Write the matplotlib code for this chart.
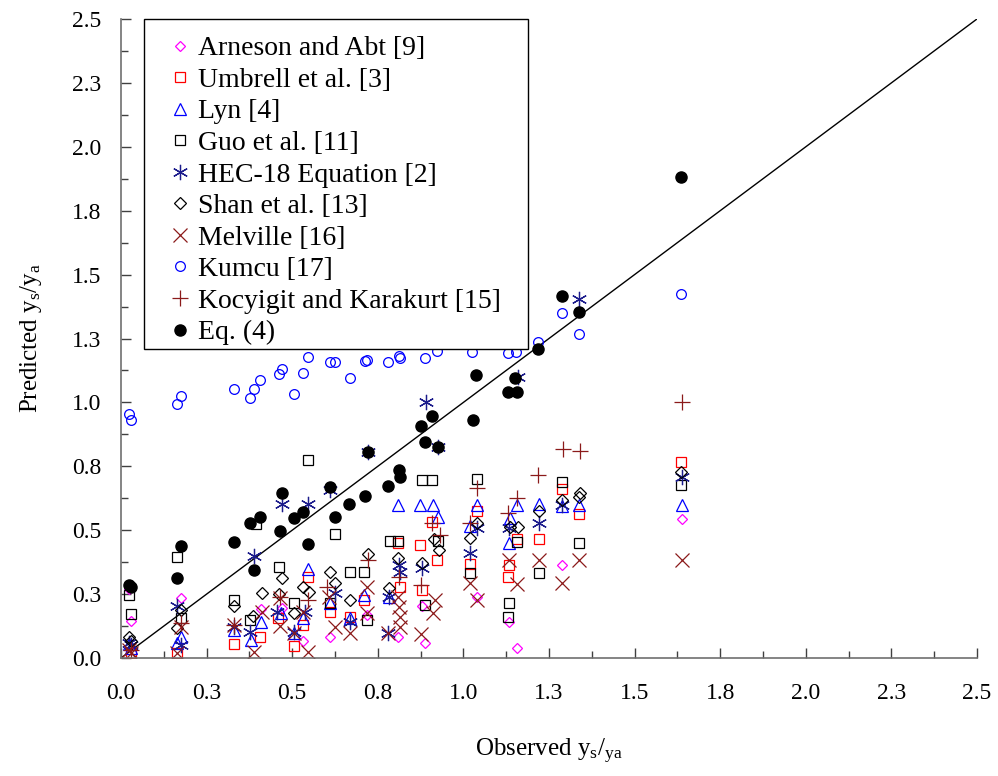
import numpy as np
import matplotlib
matplotlib.use("Agg")
import matplotlib.pyplot as plt
from matplotlib.patches import Rectangle

plt.rcParams['font.family'] = ['Liberation Serif', 'DejaVu Serif']
plt.rcParams['mathtext.fontset'] = 'custom'
plt.rcParams['mathtext.rm'] = 'Liberation Serif'
plt.rcParams['mathtext.it'] = 'Liberation Serif'

# ---Axis ticks
tick_values = [0.0, 0.25, 0.5, 0.75, 1.0, 1.25, 1.5, 1.75, 2.0, 2.25, 2.5]
tick_labels = ['0.0', '0.3', '0.5', '0.8', '1.0', '1.3', '1.5', '1.8', '2.0', '2.3', '2.5']

# ---Arneson and Abt [9]
aa_x = [0.024, 0.028, 0.175, 0.409, 0.469, 0.532, 0.610, 0.720, 0.810, 0.878,
        0.888, 1.039, 1.133, 1.158, 1.289, 1.640]
aa_y = [0.270, 0.146, 0.234, 0.191, 0.194, 0.068, 0.083, 0.168, 0.083, 0.203,
        0.057, 0.237, 0.142, 0.038, 0.364, 0.543]

# ---Umbrell et al. [3]
um_x = [0.028, 0.163, 0.331, 0.406, 0.460, 0.506, 0.532, 0.547, 0.610, 0.669,
        0.710, 0.810, 0.815, 0.873, 0.878, 0.907, 0.924, 1.019, 1.039, 1.131,
        1.133, 1.156, 1.221, 1.289, 1.339, 1.637]
um_y = [0.020, 0.018, 0.055, 0.083, 0.155, 0.047, 0.129, 0.316, 0.181, 0.160,
        0.227, 0.449, 0.279, 0.442, 0.266, 0.533, 0.383, 0.368, 0.576, 0.316,
        0.364, 0.464, 0.464, 0.661, 0.563, 0.768]

# ---Lyn [4]
ly_x = [0.024, 0.028, 0.163, 0.175, 0.331, 0.380, 0.409, 0.467, 0.506, 0.532,
        0.547, 0.610, 0.669, 0.710, 0.784, 0.810, 0.873, 0.912, 0.927, 1.019,
        1.039, 1.133, 1.135, 1.158, 1.221, 1.289, 1.339, 1.640]
ly_y = [0.055, 0.040, 0.060, 0.083, 0.110, 0.070, 0.142, 0.175, 0.097, 0.155,
        0.347, 0.216, 0.155, 0.246, 0.240, 0.599, 0.599, 0.599, 0.550, 0.516,
        0.599, 0.451, 0.547, 0.599, 0.602, 0.595, 0.599, 0.599]

# ---Guo et al. [11]
gu_x = [0.024, 0.028, 0.163, 0.175, 0.331, 0.377, 0.393, 0.461, 0.506, 0.545,
        0.610, 0.625, 0.669, 0.710, 0.720, 0.786, 0.810, 0.878, 0.888, 0.909,
        0.927, 1.019, 1.039, 1.131, 1.133, 1.158, 1.221, 1.289, 1.339, 1.637]
gu_y = [0.246, 0.172, 0.394, 0.158, 0.227, 0.149, 0.524, 0.357, 0.214, 0.775,
        0.214, 0.485, 0.338, 0.338, 0.149, 0.459, 0.459, 0.696, 0.207, 0.696,
        0.459, 0.334, 0.700, 0.162, 0.216, 0.455, 0.334, 0.687, 0.449, 0.677]

# ---HEC-18 Equation [2]
hec_x = [0.024, 0.028, 0.163, 0.175, 0.331, 0.377, 0.389, 0.455, 0.469, 0.506,
         0.537, 0.547, 0.610, 0.625, 0.669, 0.722, 0.781, 0.784, 0.812, 0.815,
         0.878, 0.891, 0.927, 1.019, 1.039, 1.133, 1.160, 1.221, 1.289, 1.338,
         1.639]
hec_y = [0.060, 0.050, 0.203, 0.051, 0.120, 0.100, 0.399, 0.181, 0.602, 0.100,
         0.181, 0.602, 0.657, 0.253, 0.142, 0.807, 0.097, 0.240, 0.364, 0.338,
         0.351, 1.003, 0.827, 0.412, 0.507, 0.510, 1.101, 0.527, 0.600, 1.405,
         0.709]

# ---Shan et al. [13]
sh_x = [0.024, 0.028, 0.163, 0.175, 0.331, 0.386, 0.411, 0.461, 0.471, 0.506,
        0.532, 0.549, 0.610, 0.625, 0.669, 0.722, 0.784, 0.810, 0.878, 0.914,
        0.930, 1.019, 1.039, 1.136, 1.160, 1.221, 1.289, 1.339, 1.340, 1.637]
sh_y = [0.083, 0.068, 0.116, 0.188, 0.203, 0.164, 0.255, 0.250, 0.312, 0.175,
        0.277, 0.259, 0.338, 0.292, 0.227, 0.407, 0.273, 0.390, 0.370, 0.464,
        0.423, 0.468, 0.527, 0.514, 0.514, 0.576, 0.618, 0.629, 0.644, 0.729]

# ---Melville [16]
me_x = [0.024, 0.028, 0.163, 0.175, 0.331, 0.389, 0.411, 0.464, 0.464, 0.506,
        0.532, 0.545, 0.607, 0.625, 0.669, 0.718, 0.720, 0.781, 0.810, 0.812,
        0.815, 0.815, 0.875, 0.912, 0.917, 1.019, 1.039, 1.133, 1.156, 1.221,
        1.289, 1.339, 1.640]
me_y = [0.031, 0.020, 0.020, 0.120, 0.129, 0.025, 0.181, 0.234, 0.125, 0.097,
        0.181, 0.025, 0.237, 0.122, 0.097, 0.279, 0.175, 0.097, 0.240, 0.201,
        0.162, 0.122, 0.094, 0.175, 0.227, 0.292, 0.227, 0.383, 0.290, 0.383,
        0.292, 0.383, 0.383]

# ---Kumcu [17]
ku_x = [0.024, 0.028, 0.163, 0.174, 0.330, 0.377, 0.389, 0.406, 0.461, 0.469,
        0.506, 0.532, 0.545, 0.610, 0.625, 0.669, 0.713, 0.720, 0.781, 0.812,
        0.815, 0.888, 0.924, 1.024, 1.131, 1.154, 1.219, 1.289, 1.338, 1.637]
ku_y = [0.953, 0.931, 0.993, 1.025, 1.051, 1.016, 1.051, 1.088, 1.110, 1.130,
        1.033, 1.116, 1.176, 1.157, 1.159, 1.097, 1.162, 1.166, 1.157, 1.183,
        1.173, 1.175, 1.201, 1.198, 1.192, 1.198, 1.235, 1.351, 1.266, 1.423]

# ---Kocyigit and Karakurt [15]
kk_x = [0.028, 0.175, 0.331, 0.464, 0.547, 0.601, 0.722, 0.812, 0.875, 0.907,
        0.932, 1.019, 1.039, 1.131, 1.156, 1.219, 1.292, 1.340, 1.639]
kk_y = [0.030, 0.137, 0.130, 0.240, 0.227, 0.279, 0.383, 0.318, 0.286, 0.527,
        0.481, 0.527, 0.666, 0.566, 0.625, 0.716, 0.818, 0.810, 1.003]

# ---Eq. (4)
eq_x = [0.024, 0.028, 0.163, 0.175, 0.331, 0.377, 0.389, 0.406, 0.464, 0.469,
        0.506, 0.532, 0.545, 0.610, 0.625, 0.667, 0.713, 0.722, 0.781, 0.812,
        0.815, 0.875, 0.888, 0.909, 0.927, 1.027, 1.037, 1.131, 1.151, 1.156,
        1.219, 1.289, 1.338, 1.637]
eq_y = [0.286, 0.277, 0.312, 0.438, 0.455, 0.527, 0.344, 0.553, 0.498, 0.644,
        0.547, 0.572, 0.446, 0.670, 0.553, 0.602, 0.634, 0.807, 0.674, 0.736,
        0.709, 0.908, 0.846, 0.948, 0.824, 0.931, 1.107, 1.042, 1.094, 1.042,
        1.208, 1.416, 1.354, 1.881]

fig = plt.figure(figsize=(9.98, 7.76), dpi=100)
ax = fig.add_axes([0.1212, 0.152, 0.8577, 0.8235])

# ---Line of perfect agreement
ax.plot([0, 2.5], [0, 2.5], color='black', lw=1.0, zorder=1)

ax.plot(aa_x, aa_y, ls='none', marker='D', ms=5.5, mfc='none', mec='#FF00FF', mew=0.9,
        label='Arneson and Abt [9]')
ax.plot(um_x, um_y, ls='none', marker='s', ms=7, mfc='none', mec='#FF0000', mew=0.9,
        label='Umbrell et al. [3]')
ax.plot(ly_x, ly_y, ls='none', marker='^', ms=8, mfc='none', mec='#0000FF', mew=0.9,
        label='Lyn [4]')
ax.plot(gu_x, gu_y, ls='none', marker='s', ms=7, mfc='none', mec='#000000', mew=0.9,
        label='Guo et al. [11]')
ax.plot(hec_x, hec_y, ls='none', marker=(6, 2, 0), ms=11, mfc='none', mec='#1C1C8C', mew=0.9,
        label='HEC-18 Equation [2]')
ax.plot(sh_x, sh_y, ls='none', marker='D', ms=6.5, mfc='none', mec='#000000', mew=0.9,
        label='Shan et al. [13]')
ax.plot(me_x, me_y, ls='none', marker='x', ms=10, mfc='none', mec='#8B1A1A', mew=0.9,
        label='Melville [16]')
ax.plot(ku_x, ku_y, ls='none', marker='o', ms=7, mfc='none', mec='#0000FF', mew=0.9,
        label='Kumcu [17]')
ax.plot(kk_x, kk_y, ls='none', marker='+', ms=12, mfc='none', mec='#8B1A1A', mew=0.9,
        label='Kocyigit and Karakurt [15]')
ax.plot(eq_x, eq_y, ls='none', marker='o', ms=8, mfc='black', mec='black',
        label='Eq. (4)')

ax.set_xlim(0, 2.5)
ax.set_ylim(0, 2.5)
ax.set_xticks(tick_values)
ax.set_xticklabels(tick_labels)
ax.set_yticks(tick_values)
ax.set_yticklabels(tick_labels)
ax.set_xticks(np.arange(0.125, 2.5, 0.25), minor=True)
ax.set_yticks(np.arange(0.125, 2.5, 0.25), minor=True)

for side in ['top', 'right']:
    ax.spines[side].set_visible(False)
for side in ['left', 'bottom']:
    ax.spines[side].set_color('#707070')
    ax.spines[side].set_linewidth(1.2)

ax.tick_params(axis='both', which='major', direction='in', length=7, width=1,
               color='#404040', labelsize=17)
ax.tick_params(axis='x', which='major', pad=18)
ax.tick_params(axis='y', which='major', pad=14)
ax.tick_params(axis='both', which='minor', direction='in', length=5, width=1,
               color='#404040')

ax.set_xlabel(r'Observed y$_{\mathrm{s}}$/$_{\mathrm{ya}}$', fontsize=18, labelpad=24)
ax.set_ylabel(r'Predicted y$_{\mathrm{s}}$/y$_{\mathrm{a}}$', fontsize=18, labelpad=20)

# ---Legend box drawn separately so the padding can match the original
ax.add_patch(Rectangle((0.0269, 0.4836), 0.4486, 0.517, transform=ax.transAxes,
                       facecolor='white', edgecolor='black', lw=1.0, zorder=5,
                       clip_on=False))
leg = ax.legend(loc='upper left', bbox_to_anchor=(0.0493, 0.978), fontsize=20,
                frameon=False, borderpad=0.1, labelspacing=0.22, handletextpad=0.15,
                handlelength=1.0, borderaxespad=0.0)
leg.set_zorder(6)

fig.savefig('out.png', dpi=100)
